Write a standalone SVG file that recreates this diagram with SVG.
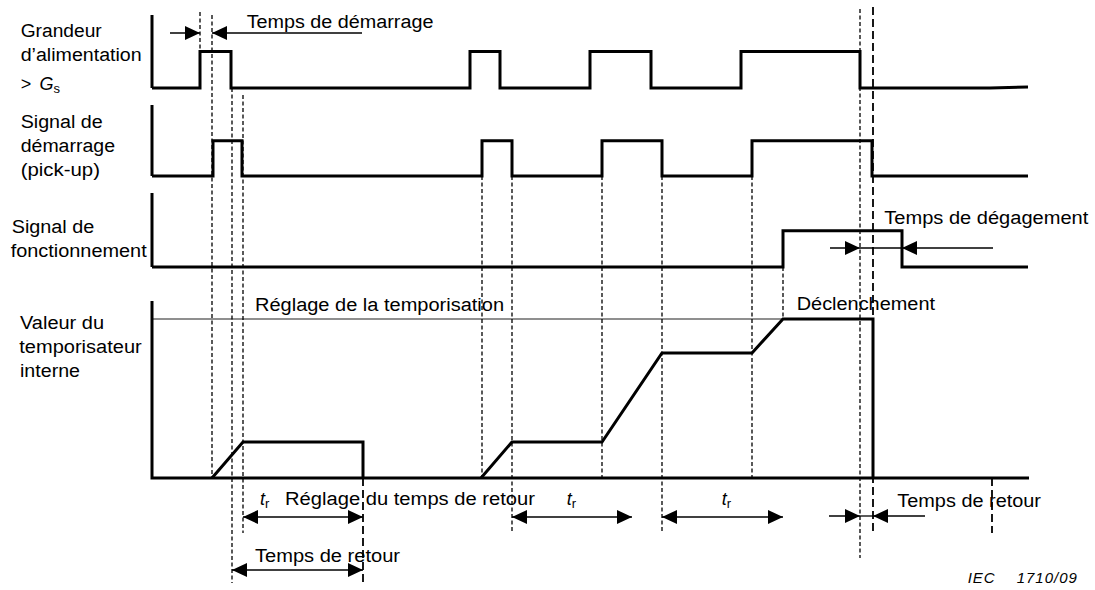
<svg xmlns="http://www.w3.org/2000/svg" width="1095" height="590" viewBox="0 0 1095 590">
  <style>
    text { font-family: "Liberation Sans", Arial, sans-serif; font-size: 18px; fill: #000; }
    .sig { fill: none; stroke: #000; stroke-width: 3; stroke-linejoin: miter; }
    .axis { fill: none; stroke: #000; stroke-width: 3; }
    .dash { stroke: #000; stroke-width: 1.3; stroke-dasharray: 4 2.5; fill: none; }
    .ldash { stroke: #000; stroke-width: 1.8; stroke-dasharray: 8 4; fill: none; }
    .thin { stroke: #000; stroke-width: 1.3; fill: none; }
    .grey { stroke: #6a6a6a; stroke-width: 1.3; fill: none; }
    .arr { stroke: #000; stroke-width: 1.5; fill: none; marker-end: url(#head); }
    .arr2 { stroke: #000; stroke-width: 1.5; fill: none; marker-end: url(#head); marker-start: url(#head); }
    .sub { font-size: 13px; }
    .it { font-style: italic; }
    .ref { font-size: 15px; font-style: italic; letter-spacing: 1px; }
  </style>
  <defs>
    <marker id="head" viewBox="0 0 15 14" refX="15" refY="7" markerWidth="15" markerHeight="14" markerUnits="userSpaceOnUse" orient="auto-start-reverse">
      <path d="M0,0 L15,7 L0,14 z" fill="#000"/>
    </marker>
  </defs>

  <!-- supply quantity above setting -->
  <g id="panel-grandeur">
    <text x="20.7" y="36.7" textLength="81" lengthAdjust="spacingAndGlyphs">Grandeur</text>
    <text x="20.7" y="61" textLength="121" lengthAdjust="spacingAndGlyphs">d’alimentation</text>
    <text x="20.7" y="90">&gt;<tspan x="39.5" class="it">G</tspan><tspan class="sub" dy="3">s</tspan></text>
    <path class="axis" d="M152,15 V88"/>
    <path class="sig" d="M152,88 H200 V51.5 H231 V88 H470 V51.5 H500 V88 H590 V51.5 H651 V88 H741 V51.5 H860 V88 H990 L1028,87"/>
  </g>

  <!-- pick-up signal -->
  <g id="panel-demarrage">
    <text x="20.7" y="128.3" textLength="82" lengthAdjust="spacingAndGlyphs">Signal de</text>
    <text x="20.7" y="151.7" textLength="94.3" lengthAdjust="spacingAndGlyphs">démarrage</text>
    <text x="20.7" y="175.5" textLength="79.3" lengthAdjust="spacingAndGlyphs">(pick-up)</text>
    <path class="axis" d="M152,105 V176"/>
    <path class="sig" d="M152,176 H213 V140.7 H242 V176 H482 V140.7 H512 V176 H602 V140.7 H662 V176 H752 V140.7 H872 V176 H1028"/>
  </g>

  <!-- operate signal -->
  <g id="panel-fonctionnement">
    <text x="11.7" y="233.3" textLength="82.6" lengthAdjust="spacingAndGlyphs">Signal de</text>
    <text x="10.7" y="257.3" textLength="136" lengthAdjust="spacingAndGlyphs">fonctionnement</text>
    <path class="axis" d="M152,193 V267"/>
    <path class="sig" d="M152,267 H783 V230.7 H902 V267 H1028"/>
  </g>

  <!-- internal timer value -->
  <g id="panel-temporisateur">
    <text x="20" y="329.3" textLength="84" lengthAdjust="spacingAndGlyphs">Valeur du</text>
    <text x="19.3" y="353.3" textLength="122.4" lengthAdjust="spacingAndGlyphs">temporisateur</text>
    <text x="20" y="376.5" textLength="60" lengthAdjust="spacingAndGlyphs">interne</text>
    <path class="grey" d="M152,319 H783"/>
    <text x="255" y="310.7" textLength="249" lengthAdjust="spacingAndGlyphs">Réglage de la temporisation</text>
    <text x="796.7" y="310" textLength="138.3" lengthAdjust="spacingAndGlyphs">Déclenchement</text>
    <path class="axis" d="M152,301 V478 H1029"/>
    <path class="sig" d="M212,478 L243,442 H363 V478"/>
    <path class="sig" d="M481,478 L512,442 H602 L662,353 H752 L783,319 H873 V478"/>
  </g>

  <!-- timing guides and dimension arrows -->
  <g id="connectors">
    <path class="dash" d="M200,12 V51"/>
    <path class="dash" d="M212,15 V478"/>
    <path class="dash" d="M232,88 V583"/>
    <path class="dash" d="M243,95 V533"/>
    <path class="ldash" d="M363,478 V583"/>
    <path class="dash" d="M482,176 V478"/>
    <path class="dash" d="M512,176 V533"/>
    <path class="dash" d="M602,176 V478"/>
    <path class="dash" d="M662,176 V533"/>
    <path class="dash" d="M752,176 V478"/>
    <path class="dash" d="M783,267 V318"/>
    <path class="dash" d="M860,9 V558"/>
    <path class="ldash" d="M873,7 V533"/>
    <path class="ldash" d="M992,478 V533"/>

    <!-- pick-up time -->
    <path class="arr" d="M170,33 H200"/>
    <path class="arr" d="M362,33 H212"/>
    <!-- drop-off time -->
    <path class="arr" d="M830,248 H860"/>
    <path class="thin" d="M860,248 H902"/>
    <path class="arr" d="M993,248 H902"/>
    <!-- reset time intervals -->
    <path class="arr2" d="M243,517 H363"/>
    <path class="arr2" d="M232,570 H363"/>
    <path class="arr2" d="M512,517 H632"/>
    <path class="arr2" d="M662,517 H783"/>
    <path class="arr" d="M829,516 H860"/>
    <path class="thin" d="M860,516 H873"/>
    <path class="arr" d="M925,516 H873"/>
  </g>

  <g id="labels">
    <text x="246.7" y="28.3" textLength="186.7" lengthAdjust="spacingAndGlyphs">Temps de démarrage</text>
    <text x="884.3" y="224" textLength="204" lengthAdjust="spacingAndGlyphs">Temps de dégagement</text>
    <text x="260" y="505"><tspan class="it">t</tspan><tspan class="sub" dy="3">r</tspan></text>
    <text x="285" y="505" textLength="250" lengthAdjust="spacingAndGlyphs">Réglage du temps de retour</text>
    <text x="255" y="561.7" textLength="145" lengthAdjust="spacingAndGlyphs">Temps de retour</text>
    <text x="566.7" y="505"><tspan class="it">t</tspan><tspan class="sub" dy="3">r</tspan></text>
    <text x="721.7" y="505"><tspan class="it">t</tspan><tspan class="sub" dy="3">r</tspan></text>
    <text x="897.3" y="506.7" textLength="143.7" lengthAdjust="spacingAndGlyphs">Temps de retour</text>
    <text x="967.7" y="583.3" class="ref">IEC<tspan x="1016.7">1710/09</tspan></text>
  </g>
</svg>
